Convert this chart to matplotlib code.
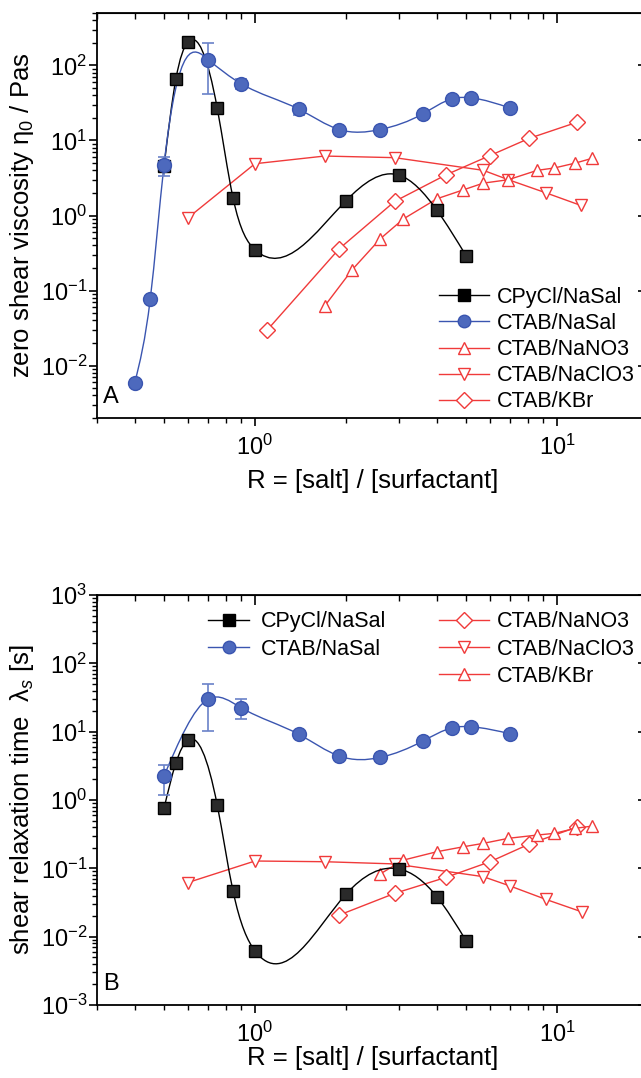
import numpy as np
import matplotlib.pyplot as plt
from matplotlib.path import Path
from matplotlib.patches import PathPatch
from matplotlib.lines import Line2D
from matplotlib.ticker import LogLocator, LogFormatterMathtext, NullFormatter

plt.rcParams['font.family'] = ['Liberation Sans', 'DejaVu Sans']
plt.rcParams['mathtext.fontset'] = 'custom'
plt.rcParams['mathtext.rm'] = 'Liberation Sans'
plt.rcParams['mathtext.it'] = 'Liberation Sans:italic'
plt.rcParams['mathtext.sf'] = 'Liberation Sans'

# ---------- panel A : zero shear viscosity
R_cpycl_a = [0.5, 0.547, 0.6, 0.75, 0.846, 1.0, 2.0, 3.0, 4.0, 5.0]
eta_cpycl = [4.5, 65, 205, 27, 1.72, 0.35, 1.57, 3.45, 1.18, 0.29]

R_nasal_a = [0.4, 0.45, 0.5, 0.7, 0.9, 1.4, 1.9, 2.6, 3.6, 4.5, 5.2, 7.0]
eta_nasal = [0.0059, 0.076, 4.7, 120, 57, 26, 14, 14, 22.7, 36, 37, 27]
R_nasal_a_err = [0.5, 0.7, 0.9, 1.4]
eta_nasal_err_val = [4.7, 120, 57, 26]
eta_nasal_lo = [3.4, 41, 49, 22]
eta_nasal_hi = [6.1, 200, 65, 30]

R_nano3_a = [1.7, 2.1, 2.6, 3.1, 4.0, 4.9, 5.7, 6.9, 8.6, 9.8, 11.5, 13.1]
eta_nano3 = [0.062, 0.19, 0.49, 0.9, 1.67, 2.2, 2.7, 3.0, 4.0, 4.3, 5.0, 5.8]

R_naclo3_a = [0.6, 1.0, 1.7, 2.9, 5.7, 6.9, 9.2, 12.0]
eta_naclo3 = [0.93, 4.9, 6.2, 5.9, 4.0, 3.0, 2.0, 1.36]

R_kbr_a = [1.1, 1.9, 2.9, 4.3, 6.0, 8.1, 11.6]
eta_kbr = [0.03, 0.36, 1.54, 3.5, 6.3, 10.7, 17.4]

# ---------- panel B : shear relaxation time
R_cpycl_b = [0.5, 0.547, 0.6, 0.75, 0.846, 1.0, 2.0, 3.0, 4.0, 5.0]
lam_cpycl = [0.755, 3.45, 7.55, 0.845, 0.0466, 0.0062, 0.0417, 0.098, 0.0385, 0.0087]

R_nasal_b = [0.5, 0.7, 0.9, 1.4, 1.9, 2.6, 3.6, 4.5, 5.2, 7.0]
lam_nasal = [2.25, 30, 22.4, 9.1, 4.4, 4.2, 7.3, 11.4, 11.8, 9.3]
R_nasal_b_err = [0.5, 0.7, 0.9]
lam_nasal_err_val = [2.25, 30, 22.4]
lam_nasal_lo = [1.2, 10.3, 15.5]
lam_nasal_hi = [3.3, 50, 30]

R_diam_b = [1.9, 2.9, 4.3, 6.0, 8.1, 11.6]
lam_diam = [0.0207, 0.043, 0.074, 0.125, 0.227, 0.40]

R_down_b = [0.6, 1.0, 1.7, 2.9, 5.7, 7.0, 9.2, 12.1]
lam_down = [0.062, 0.128, 0.125, 0.116, 0.0755, 0.055, 0.035, 0.023]

R_up_b = [2.6, 3.1, 4.0, 4.9, 5.7, 6.9, 8.6, 9.8, 11.5, 13.1]
lam_up = [0.083, 0.132, 0.175, 0.207, 0.232, 0.275, 0.307, 0.325, 0.385, 0.416]

BLACK = '#000000'
BLUE = '#3a55b0'
BLUE_M = '#4d69bd'
RED = '#f03a3a'

TICK_FS = 17
LABEL_FS = 18.5
LEG_FS = 15.5


def spline_path(xs, ys):
    # cubic spline through the points in log-log space, drawn as bezier segments
    lx, ly = np.log10(xs), np.log10(ys)
    n = len(lx)
    h = np.diff(lx)
    A = np.zeros((n, n))
    b = np.zeros(n)
    A[0, 0] = A[-1, -1] = 1
    for i in range(1, n - 1):
        A[i, i - 1] = h[i - 1]
        A[i, i] = 2 * (h[i - 1] + h[i])
        A[i, i + 1] = h[i]
        b[i] = 6 * ((ly[i + 1] - ly[i]) / h[i] - (ly[i] - ly[i - 1]) / h[i - 1])
    M = np.linalg.solve(A, b)
    m = np.empty(n)
    m[:-1] = (ly[1:] - ly[:-1]) / h - h * (2 * M[:-1] + M[1:]) / 6
    m[-1] = (ly[-1] - ly[-2]) / h[-1] + h[-1] * (M[-2] + 2 * M[-1]) / 6
    verts = [(lx[0], ly[0])]
    codes = [Path.MOVETO]
    for i in range(n - 1):
        verts += [(lx[i] + h[i] / 3, ly[i] + m[i] * h[i] / 3),
                  (lx[i + 1] - h[i] / 3, ly[i + 1] - m[i + 1] * h[i] / 3),
                  (lx[i + 1], ly[i + 1])]
        codes += [Path.CURVE4] * 3
    return Path(10 ** np.array(verts), codes)


def style_axes(ax, ylim, label_letter, xlabel_y):
    ax.set_xscale('log')
    ax.set_yscale('log')
    ax.set_xlim(0.3, 20)
    ax.set_ylim(*ylim)
    for a in (ax.xaxis, ax.yaxis):
        a.set_major_locator(LogLocator(base=10))
        a.set_minor_locator(LogLocator(base=10, subs=np.arange(2, 10)))
        a.set_major_formatter(LogFormatterMathtext())
        a.set_minor_formatter(NullFormatter())
    ax.tick_params(which='major', direction='out', length=6, width=1.2, labelsize=TICK_FS)
    ax.tick_params(which='minor', direction='out', length=3.5, width=1.0)
    ax.tick_params(axis='y', pad=1)
    ax.tick_params(axis='x', pad=6)
    for s in ax.spines.values():
        s.set_linewidth(1.3)
    top = ax.secondary_xaxis('top')
    top.tick_params(which='major', direction='in', length=7, width=1.2, labeltop=False)
    top.tick_params(which='minor', direction='in', length=4, width=1.0)
    top.xaxis.set_major_formatter(NullFormatter())
    top.xaxis.set_minor_formatter(NullFormatter())
    right = ax.secondary_yaxis('right')
    right.tick_params(which='major', direction='in', length=7, width=1.2, labelright=False)
    right.tick_params(which='minor', direction='in', length=4, width=1.0)
    right.yaxis.set_major_formatter(NullFormatter())
    right.yaxis.set_minor_formatter(NullFormatter())
    ax.set_xlabel('R = [salt] / [surfactant]', fontsize=LABEL_FS)
    ax.xaxis.set_label_coords(0.5, xlabel_y)
    ax.text(0.011, 0.025, label_letter, transform=ax.transAxes, fontsize=17,
            ha='left', va='bottom')


fig = plt.figure(figsize=(6.41, 10.78), dpi=100)
axA = fig.add_axes([97 / 641, 1 - 418 / 1078, 551 / 641, 405 / 1078])
axB = fig.add_axes([97 / 641, 1 - 1005 / 1078, 551 / 641, 410 / 1078])

open_kw = dict(mfc='white', mec=RED, color=RED, lw=1.0, mew=1.0, ms=9)
blue_kw = dict(ls='none', marker='o', ms=10, mfc=BLUE_M, mec=BLUE, zorder=5)
black_kw = dict(ls='none', marker='s', ms=8, mfc='#2a2a2a', mec=BLACK, zorder=5)

# ---- panel A
axA.plot(R_naclo3_a, eta_naclo3, marker='v', **open_kw)
axA.plot(R_kbr_a, eta_kbr, marker='D', **dict(open_kw, ms=8))
axA.plot(R_nano3_a, eta_nano3, marker='^', **open_kw)
axA.add_patch(PathPatch(spline_path(R_cpycl_a, eta_cpycl), fill=False, ec=BLACK, lw=1.0, zorder=3))
axA.plot(R_cpycl_a, eta_cpycl, **black_kw)
axA.add_patch(PathPatch(spline_path(R_nasal_a, eta_nasal), fill=False, ec=BLUE, lw=1.0, zorder=4))
axA.errorbar(R_nasal_a_err, eta_nasal_err_val,
             yerr=[np.subtract(eta_nasal_err_val, eta_nasal_lo), np.subtract(eta_nasal_hi, eta_nasal_err_val)],
             fmt='none', ecolor='#6a82c8', elinewidth=1.2, capsize=4, capthick=1.2, zorder=4)
axA.plot(R_nasal_a, eta_nasal, **blue_kw)
style_axes(axA, (0.002, 500), 'A', -0.125)
axA.set_ylabel('zero shear viscosity η$_0$ / Pas', fontsize=LABEL_FS)
axA.yaxis.set_label_coords(-0.111, 0.5)

hA = [Line2D([], [], color=BLACK, marker='s', ms=8, mfc=BLACK, lw=1.0),
      Line2D([], [], color=BLUE, marker='o', ms=9, mfc=BLUE_M, mec=BLUE, lw=1.0),
      Line2D([], [], marker='^', **open_kw),
      Line2D([], [], marker='v', **open_kw),
      Line2D([], [], marker='D', **dict(open_kw, ms=8))]
labA = ['CPyCl/NaSal', 'CTAB/NaSal', 'CTAB/NaNO3', 'CTAB/NaClO3', 'CTAB/KBr']
leg_kw = dict(frameon=False, fontsize=LEG_FS, borderpad=0,
              borderaxespad=0, loc='upper left')
axA.legend(hA, labA, bbox_to_anchor=(0.621, 0.324), handlelength=2.33,
           handletextpad=0.33, labelspacing=0.24, **leg_kw)

# ---- panel B
axB.plot(R_down_b, lam_down, marker='v', **open_kw)
axB.plot(R_diam_b, lam_diam, marker='D', **dict(open_kw, ms=8))
axB.plot(R_up_b, lam_up, marker='^', **open_kw)
axB.add_patch(PathPatch(spline_path(R_cpycl_b, lam_cpycl), fill=False, ec=BLACK, lw=1.0, zorder=3))
axB.plot(R_cpycl_b, lam_cpycl, **black_kw)
axB.add_patch(PathPatch(spline_path(R_nasal_b, lam_nasal), fill=False, ec=BLUE, lw=1.0, zorder=4))
axB.errorbar(R_nasal_b_err, lam_nasal_err_val,
             yerr=[np.subtract(lam_nasal_err_val, lam_nasal_lo), np.subtract(lam_nasal_hi, lam_nasal_err_val)],
             fmt='none', ecolor='#6a82c8', elinewidth=1.2, capsize=4, capthick=1.2, zorder=4)
axB.plot(R_nasal_b, lam_nasal, **blue_kw)
style_axes(axB, (1e-3, 1e3), 'B', -0.100)
axB.set_ylabel('shear relaxation time  λ$_s$ [s]', fontsize=LABEL_FS)
axB.yaxis.set_label_coords(-0.111, 0.5)

l1 = axB.legend(hA[:2], labA[:2], bbox_to_anchor=(0.202, 0.96), handlelength=1.9,
                handletextpad=0.56, labelspacing=0.29, **leg_kw)
axB.add_artist(l1)
hB = [Line2D([], [], marker='D', **dict(open_kw, ms=8)),
      Line2D([], [], marker='v', **open_kw),
      Line2D([], [], marker='^', **open_kw)]
axB.legend(hB, ['CTAB/NaNO3', 'CTAB/NaClO3', 'CTAB/KBr'], bbox_to_anchor=(0.621, 0.96),
           handlelength=2.33, handletextpad=0.33, labelspacing=0.29, **leg_kw)

fig.savefig('out.png', dpi=100)
